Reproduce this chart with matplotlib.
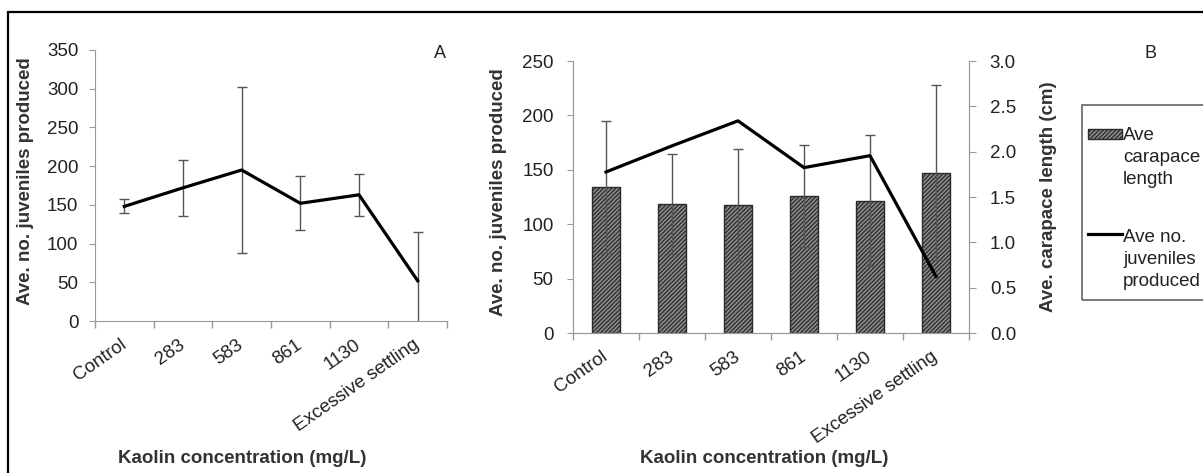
import numpy as np
import matplotlib
matplotlib.use('Agg')
import matplotlib.pyplot as plt
from matplotlib.patches import Rectangle
from matplotlib.transforms import Affine2D
from matplotlib.legend_handler import HandlerPatch, HandlerLine2D

plt.rcParams['font.family'] = ['Liberation Sans', 'DejaVu Sans']
plt.rcParams['hatch.linewidth'] = 0.9

categories = ['Control', '283', '583', '861', '1130', 'Excessive settling']
# average juveniles produced (mean and error)
juveniles = [148, 172, 195, 152, 163, 52]
juveniles_err = [9, 36, 107, 35, 27, 63]
# average carapace length in cm (mean and error)
carapace = [1.61, 1.42, 1.41, 1.51, 1.46, 1.77]
carapace_err = [0.73, 0.55, 0.62, 0.56, 0.72, 0.97]

W, H = 1203, 473
fig = plt.figure(figsize=(W / 100, H / 100), dpi=100)
fig.patch.set_facecolor('white')


def box(l, r, b, t):
    return [l / W, 1 - b / H, (r - l) / W, (b - t) / H]


axis_grey = '#9a9a9a'
txt = '#222222'
fs = 13.5

axA = fig.add_axes(box(95, 447, 321, 50))
axB = fig.add_axes(box(573, 969, 333, 61))
axC = axB.twinx()

x = np.arange(len(categories))


def style_x(ax):
    ax.set_xlim(-0.5, len(categories) - 0.5)
    ax.set_xticks(np.arange(len(categories) + 1) - 0.5)
    ax.set_xticklabels([])
    ax.set_xticks(x, minor=True)
    ax.set_xticklabels(categories, minor=True, rotation=35, ha='right',
                       va='center', rotation_mode='anchor', color=txt, fontsize=fs)
    ax.tick_params(axis='x', which='major', direction='out', length=5,
                   color=axis_grey, width=1)
    ax.tick_params(axis='x', which='minor', length=0, pad=16)


# panel A
axA.errorbar(x, juveniles, yerr=juveniles_err, color='black', lw=2.3,
             ecolor='#555555', elinewidth=1, capsize=3.3, capthick=1)
axA.set_ylim(0, 350)
axA.set_yticks(np.arange(0, 351, 50))
style_x(axA)
for s in ['top', 'right']:
    axA.spines[s].set_visible(False)
for s in ['left', 'bottom']:
    axA.spines[s].set_color(axis_grey)
axA.tick_params(axis='y', direction='out', length=4, color=axis_grey,
                labelcolor=txt, labelsize=fs, pad=8)
axA.set_ylabel('Ave. no. juveniles produced', fontsize=13.5,
               fontweight='bold', color='#333333')
axA.yaxis.set_label_coords(-0.172, 0.517)
axA.set_xlabel('Kaolin concentration (mg/L)', fontsize=13.5,
               fontweight='bold', color='#333333')
axA.xaxis.set_label_coords(0.418, -0.476)

# panel B: bars on the right axis, line on the left axis
bars = axC.bar(x, carapace, width=0.42, color='#8a8a8a', edgecolor='#2a2a2a',
               hatch='////////', lw=1)
axC.errorbar(x, carapace, yerr=carapace_err, fmt='none', ecolor='#555555',
             elinewidth=1, capsize=3.3, capthick=1)
axC.set_ylim(0, 3.0)
axC.set_yticks(np.arange(0, 3.01, 0.5))
axC.set_yticklabels(['%.1f' % v for v in np.arange(0, 3.01, 0.5)])
axC.tick_params(axis='y', direction='out', length=5, color=axis_grey,
                labelcolor=txt, labelsize=fs, pad=10)
axC.set_ylabel('Ave. carapace length (cm)', fontsize=13.5,
               fontweight='bold', color='#333333')
axC.yaxis.set_label_coords(1.18, 0.5)

line, = axB.plot(x, juveniles, color='black', lw=2.3)
axB.set_zorder(axC.get_zorder() + 1)
axB.patch.set_visible(False)
axB.set_ylim(0, 250)
axB.set_yticks(np.arange(0, 251, 50))
style_x(axB)
axB.tick_params(axis='y', direction='out', length=4, color=axis_grey,
                labelcolor=txt, labelsize=fs, pad=10)
axB.set_ylabel('Ave. no. juveniles produced', fontsize=13.5,
               fontweight='bold', color='#333333')
axB.yaxis.set_label_coords(-0.167, 0.518)
axB.set_xlabel('Kaolin concentration (mg/L)', fontsize=13.5,
               fontweight='bold', color='#333333')
axB.xaxis.set_label_coords(0.482, -0.43)

for ax in (axB, axC):
    ax.spines['top'].set_visible(False)
    for s in ['left', 'bottom', 'right']:
        ax.spines[s].set_color(axis_grey)


# legend handles raised to sit beside the first line of each label
class RaisedPatch(HandlerPatch):
    def __init__(self, lift, **kw):
        super().__init__(**kw)
        self.lift = lift

    def create_artists(self, legend, orig_handle, xdescent, ydescent,
                       width, height, fontsize, trans):
        trans = Affine2D().translate(0, self.lift) + trans
        return super().create_artists(legend, orig_handle, xdescent, ydescent,
                                      width, height, fontsize, trans)


class RaisedLine(HandlerLine2D):
    def __init__(self, lift, **kw):
        super().__init__(**kw)
        self.lift = lift

    def create_artists(self, legend, orig_handle, xdescent, ydescent,
                       width, height, fontsize, trans):
        trans = Affine2D().translate(0, self.lift) + trans
        return super().create_artists(legend, orig_handle, xdescent, ydescent,
                                      width, height, fontsize, trans)


bar_handle = bars.patches[0]
leg = fig.legend(handles=[bar_handle, line],
                 labels=['Ave\ncarapace\nlength', 'Ave no.\njuveniles\nproduced'],
                 handler_map={bar_handle: RaisedPatch(16.9),
                              line: RaisedLine(18.7)},
                 loc='upper left', bbox_to_anchor=(1088 / W, 1 - 127 / H),
                 borderaxespad=0, borderpad=0, fontsize=fs, frameon=False,
                 labelspacing=2.18, handlelength=1.8, handleheight=0.45,
                 handletextpad=0.08, labelcolor=txt)
for t in leg.get_texts():
    t.set_linespacing(1.38)
fig.add_artist(Rectangle((1082 / W, 1 - 300 / H), 0.2, 195 / H,
                         transform=fig.transFigure, fill=False,
                         ec='#666666', lw=1.2))

fig.text(440 / W, 1 - 53 / H, 'A', ha='center', va='center', fontsize=13, color=txt)
fig.text(1150 / W, 1 - 53 / H, 'B', ha='center', va='center', fontsize=13, color=txt)

# outer frame round the whole figure
fig.add_artist(Rectangle((8 / W, -0.1), 1.2, 1.1 - 12 / H,
                         transform=fig.transFigure, fill=False,
                         ec='black', lw=1.6))

fig.savefig('out.png', dpi=100)
